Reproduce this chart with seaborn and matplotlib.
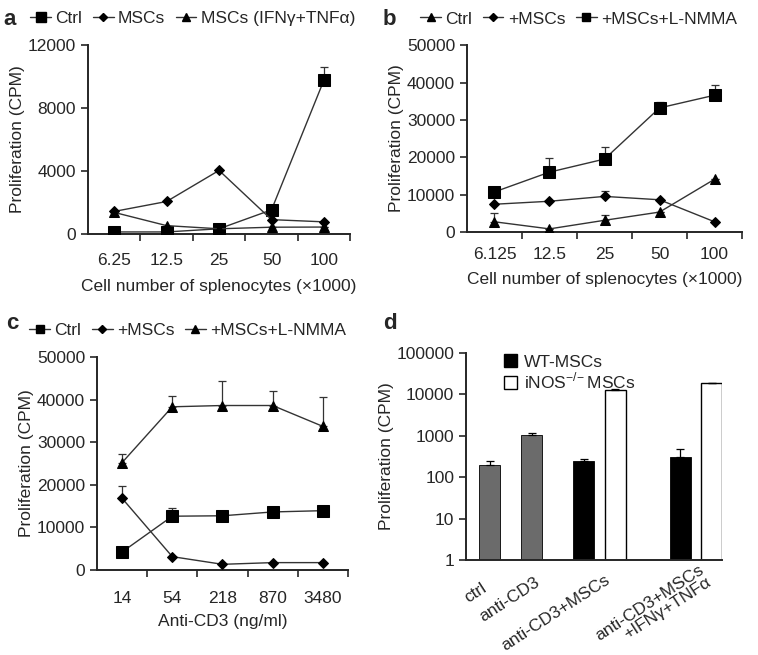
import numpy as np
import pandas as pd
import seaborn as sns
import matplotlib.pyplot as plt
from matplotlib.lines import Line2D
from matplotlib.patches import Patch
from matplotlib.ticker import FixedLocator, FuncFormatter

sns.set_style("ticks")
plt.rcParams['font.family'] = ['Liberation Sans', 'DejaVu Sans']
plt.rcParams['mathtext.fontset'] = 'custom'
plt.rcParams['mathtext.rm'] = 'Liberation Sans'

# panel a
a_cats = ["6.25", "12.5", "25", "50", "100"]
a_ctrl = [120, 120, 320, 1520, 9750]
a_ctrl_err = [0, 0, 0, 0, 850]
a_msc = [1420, 2050, 4020, 900, 760]
a_msc_ifn = [1360, 520, 320, 420, 430]

# panel b
b_cats = ["6.125", "12.5", "25", "50", "100"]
b_ctrl = [2700, 800, 3100, 5300, 14100]
b_ctrl_err = [2300, 0, 1500, 0, 0]
b_msc = [7400, 8200, 9500, 8600, 2700]
b_msc_err = [0, 0, 1500, 0, 0]
b_nmma = [10700, 16000, 19500, 33200, 36600]
b_nmma_err = [0, 3800, 3300, 1600, 2700]

# panel c
c_cats = ["14", "54", "218", "870", "3480"]
c_ctrl = [4200, 12600, 12700, 13600, 13900]
c_ctrl_err = [0, 1900, 0, 0, 0]
c_msc = [16800, 3100, 1300, 1700, 1700]
c_msc_err = [3000, 0, 0, 0, 0]
c_nmma = [25200, 38300, 38600, 38600, 33700]
c_nmma_err = [2100, 2600, 5700, 3400, 6800]

# panel d
d_groups = ["ctrl", "anti-CD3", "anti-CD3+MSCs", "anti-CD3+MSCs\n+IFNγ+TNFα"]
d_wt = [200, 1050, 250, 310]
d_wt_err = [50, 120, 25, 170]
d_ko = [np.nan, np.nan, 13000, 19000]
d_ko_err = [0, 0, 300, 300]

LINE = "#333333"
FS = 12.5

fig = plt.figure(figsize=(7.58, 6.55), dpi=100)


def line_panel(rect, cats, series, ymax, ystep, xlabel, legend_xy, tpad, lpad):
    ax = fig.add_axes(rect)
    pos = np.arange(len(cats))
    handles = []
    for label, vals, errs, mk, ms in series:
        df = pd.DataFrame({"x": pos, "y": vals})
        sns.lineplot(data=df, x="x", y="y", ax=ax, color=LINE, lw=1.0,
                     marker=mk, markersize=ms, markerfacecolor="black",
                     markeredgecolor="black", legend=False, zorder=3)
        ax.errorbar(pos, vals, yerr=[np.zeros(len(errs)), errs], fmt="none",
                    ecolor=LINE, elinewidth=0.9, capsize=3, capthick=0.9, zorder=2)
        handles.append(Line2D([0], [0], color=LINE, lw=1.0, marker=mk,
                              markersize=ms * 0.8, markerfacecolor="black",
                              markeredgecolor="black", label=label))
    ax.set_xlim(-0.5, len(cats) - 0.5)
    ax.set_ylim(0, ymax)
    ax.set_yticks(np.arange(0, ymax + 1, ystep))
    ax.set_xticks(pos)
    ax.set_xticklabels(cats, fontsize=FS)
    ax.tick_params(axis="x", which="major", length=0, pad=tpad)
    ax.xaxis.set_minor_locator(FixedLocator(pos + 0.5))
    ax.tick_params(axis="x", which="minor", length=5, width=1.2)
    ax.tick_params(axis="y", labelsize=FS, length=5, width=1.2)
    for s in ["left", "bottom"]:
        ax.spines[s].set_linewidth(1.4)
    sns.despine(ax=ax)
    ax.set_xlabel(xlabel, fontsize=FS, labelpad=lpad)
    ax.set_ylabel("Proliferation (CPM)", fontsize=FS, labelpad=2)
    ax.legend(handles=handles, loc="lower left", ncol=3, frameon=False,
              bbox_to_anchor=legend_xy, fontsize=FS, handlelength=1.2,
              handletextpad=0.25, columnspacing=0.6, borderaxespad=0,
              borderpad=0)
    return ax


ax_a = line_panel([0.116, 0.643, 0.346, 0.289], a_cats,
                  [("Ctrl", a_ctrl, a_ctrl_err, "s", 9),
                   ("MSCs", a_msc, [0] * 5, "D", 5),
                   ("MSCs (IFNγ+TNFα)", a_msc_ifn, [0] * 5, "^", 7)],
                  12000, 4000, "Cell number of splenocytes (×1000)",
                  (-0.22, 1.10), 14, 8)
fig.text(0.005, 0.962, "a", fontsize=16, fontweight="bold")

ax_b = line_panel([0.616, 0.646, 0.363, 0.285], b_cats,
                  [("Ctrl", b_ctrl, b_ctrl_err, "^", 7),
                   ("+MSCs", b_msc, b_msc_err, "D", 5),
                   ("+MSCs+L-NMMA", b_nmma, b_nmma_err, "s", 8)],
                  50000, 10000, "Cell number of splenocytes (×1000)",
                  (-0.17, 1.10), 11, 7)
fig.text(0.505, 0.962, "b", fontsize=16, fontweight="bold")

ax_c = line_panel([0.128, 0.130, 0.331, 0.325], c_cats,
                  [("Ctrl", c_ctrl, c_ctrl_err, "s", 8),
                   ("+MSCs", c_msc, c_msc_err, "D", 5),
                   ("+MSCs+L-NMMA", c_nmma, c_nmma_err, "^", 7)],
                  50000, 10000, "Anti-CD3 (ng/ml)", (-0.27, 1.09), 15, 6)
fig.text(0.008, 0.497, "c", fontsize=16, fontweight="bold")

# panel d: log-scale bars, slot layout in bar-width units
ax_d = fig.add_axes([0.615, 0.145, 0.338, 0.316])
wt_pos = np.array([1.12, 3.12, 5.6, 10.2])
ko_pos = wt_pos + 1.5
bar_cols = ["#6b6b6b", "#6b6b6b", "black", "black"]
ax_d.bar(wt_pos, d_wt, width=1.0, color=bar_cols, edgecolor="black",
         linewidth=0.6, zorder=2)
ax_d.errorbar(wt_pos, d_wt, yerr=[np.zeros(4), d_wt_err], fmt="none",
              ecolor="black", elinewidth=0.9, capsize=3, capthick=0.9)
ax_d.bar(ko_pos, d_ko, width=1.0, color="white", edgecolor="black",
         linewidth=1.0, zorder=2)
ax_d.errorbar(ko_pos, d_ko, yerr=[np.zeros(4), d_ko_err], fmt="none",
              ecolor="black", elinewidth=0.9, capsize=3, capthick=0.9)
ax_d.set_yscale("log")
ax_d.set_ylim(1, 100000)
ax_d.set_xlim(0, 12.2)
ax_d.yaxis.set_major_locator(FixedLocator([1, 10, 100, 1000, 10000, 100000]))
ax_d.yaxis.set_major_formatter(FuncFormatter(lambda v, p: f"{int(v)}"))
ax_d.yaxis.set_minor_locator(FixedLocator([]))
ax_d.set_xticks([])
# category labels: right end of each label (axes fraction)
lab_x = [0.06, 0.265, 0.54, 0.905]
lab_y = [-0.10, -0.07, -0.06, -0.01]
for name, lx, ly in zip(d_groups, lab_x, lab_y):
    ax_d.text(lx, ly, name, transform=ax_d.transAxes, rotation=33,
              ha="right", va="top", rotation_mode="anchor", fontsize=FS,
              linespacing=0.95)
ax_d.tick_params(axis="y", labelsize=FS, length=5, width=1.2)
for s in ["left", "bottom"]:
    ax_d.spines[s].set_linewidth(1.4)
sns.despine(ax=ax_d)
ax_d.set_ylabel("Proliferation (CPM)", fontsize=FS, labelpad=2)
ax_d.legend(handles=[Patch(facecolor="black", edgecolor="black", label="WT-MSCs"),
                     Patch(facecolor="white", edgecolor="black",
                           label=r"iNOS$^{-/\!-}$MSCs")],
            loc="upper left", bbox_to_anchor=(0.085, 1.07), frameon=False,
            fontsize=FS, handlelength=0.8, handleheight=0.8, handletextpad=0.4,
            labelspacing=0.05)
fig.text(0.505, 0.497, "d", fontsize=16, fontweight="bold")

fig.savefig("out.png", dpi=100)
